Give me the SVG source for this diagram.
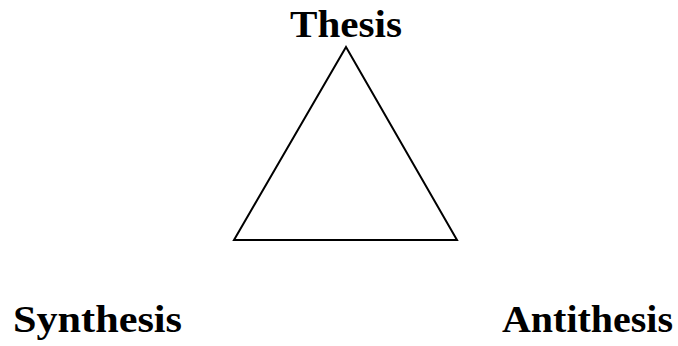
<svg xmlns="http://www.w3.org/2000/svg" width="678" height="346" viewBox="0 0 678 346">
<style>
.lbl{font-family:"Liberation Serif","Times New Roman",serif;font-weight:bold;font-size:38px;fill:#000}
.edge{fill:none;stroke:#000;stroke-width:2}
</style>
<rect width="678" height="346" fill="#fff"/>
<g id="connectors">
<polygon class="edge" points="346,47 234,240 457,240"/>
</g>
<g id="thesis"><text class="lbl" x="290" y="37" textLength="112" lengthAdjust="spacingAndGlyphs">Thesis</text></g>
<g id="synthesis"><text class="lbl" x="13" y="332" textLength="169" lengthAdjust="spacingAndGlyphs">Synthesis</text></g>
<g id="antithesis"><text class="lbl" x="502" y="332" textLength="171" lengthAdjust="spacingAndGlyphs">Antithesis</text></g>
</svg>
